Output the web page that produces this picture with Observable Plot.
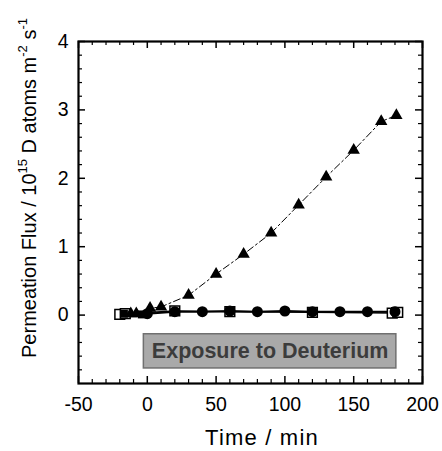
<!DOCTYPE html>
<html><head><meta charset="utf-8">
<script src="https://cdn.jsdelivr.net/npm/d3@7"></script>
<script src="https://cdn.jsdelivr.net/npm/@observablehq/plot@0.6"></script>
<style>body{margin:0;background:#fff} #chart svg{display:block}</style>
</head><body><div id="chart"></div>
<script>
// ---- data ----
const triTime = [-12, -8, 2, 10, 30, 50, 70, 90, 110, 130, 150, 170, 181];
const triFlux = [0.02, 0.02, 0.10, 0.12, 0.29, 0.60, 0.89, 1.20, 1.61, 2.02, 2.41, 2.83, 2.92];
const circTime = [0, 20, 40, 60, 80, 100, 120, 140, 160, 180];
const circFlux = [0.02, 0.05, 0.05, 0.06, 0.05, 0.06, 0.05, 0.05, 0.05, 0.05];
const sqTime = [-20, -16, 20, 60, 120, 178, 182];
const sqFlux = [0.01, 0.02, 0.06, 0.05, 0.04, 0.03, 0.04];
const fsqTime = [-17, -4, 180];
const fsqFlux = [0.02, 0.01, 0.06];
const xTicks = [-50, 0, 50, 100, 150, 200];
const xMinor = [-40,-30,-20,-10,10,20,30,40,60,70,80,90,110,120,130,140,160,170,180,190];
const yTicks = [0, 1, 2, 3, 4];
const yMinor = [-0.8,-0.6,-0.4,-0.2,0.2,0.4,0.6,0.8,1.2,1.4,1.6,1.8,2.2,2.4,2.6,2.8,3.2,3.4,3.6,3.8];
const boxX = [-2.5, 181];
const boxY = [-0.78, -0.28];
const boxLabel = "Exposure to Deuterium";
const xTitle = "Time / min";

const tri = triTime.map((t, i) => ({t, v: triFlux[i]}));
const circ = circTime.map((t, i) => ({t, v: circFlux[i]}));
const sq = sqTime.map((t, i) => ({t, v: sqFlux[i]}));
const fsq = fsqTime.map((t, i) => ({t, v: fsqFlux[i]}));

const W = 442, H = 451, mL = 78, mR = 20, mT = 41, mB = 68;
const pw = W - mL - mR, ph = H - mT - mB;
const font = "'Liberation Sans', Arial, sans-serif";

const chart = Plot.plot({
  width: W, height: H,
  marginLeft: mL, marginRight: mR, marginTop: mT, marginBottom: mB,
  style: {fontFamily: font, background: "#fff", color: "black"},
  x: {domain: [-50, 200]},
  y: {domain: [-1, 4]},
  marks: [
    Plot.rect([0], {x1: () => boxX[0], x2: () => boxX[1], y1: () => boxY[0], y2: () => boxY[1],
      fill: "#a9a9a9", stroke: "#707070", strokeWidth: 1.5}),
    Plot.text([boxLabel], {x: (boxX[0] + boxX[1]) / 2, y: (boxY[0] + boxY[1]) / 2, text: d => d,
      fontSize: 21.5, fontWeight: "bold", fill: "#3c3c3c"}),
    Plot.line(tri, {x: "t", y: "v", stroke: "black", strokeWidth: 1, strokeDasharray: "7,3,2,3"}),
    Plot.line(sq, {x: "t", y: "v", stroke: "black", strokeWidth: 1.5}),
    Plot.line(circ, {x: "t", y: "v", stroke: "black", strokeWidth: 2}),
    Plot.dot(sq, {x: "t", y: "v", symbol: "square", r: 5.5, stroke: "black", strokeWidth: 1.5, fill: "white"}),
    Plot.dot(fsq, {x: "t", y: "v", symbol: "square", r: 4.5, fill: "black"}),
    Plot.dot(circ, {x: "t", y: "v", symbol: "circle", r: 5.5, fill: "black"}),
    Plot.dot(tri, {x: "t", y: "v", symbol: "triangle", r: 4.6, fill: "black"}),
    // ticks (inward, all four sides)
    Plot.tickX(xTicks, {x: d => d, insetTop: ph - 7, stroke: "black", strokeWidth: 1.5}),
    Plot.tickX(xTicks, {x: d => d, insetBottom: ph - 7, stroke: "black", strokeWidth: 1.5}),
    Plot.tickX(xMinor, {x: d => d, insetTop: ph - 4, stroke: "black", strokeWidth: 1.2}),
    Plot.tickX(xMinor, {x: d => d, insetBottom: ph - 4, stroke: "black", strokeWidth: 1.2}),
    Plot.tickY(yTicks, {y: d => d, insetRight: pw - 7, stroke: "black", strokeWidth: 1.5}),
    Plot.tickY(yTicks, {y: d => d, insetLeft: pw - 7, stroke: "black", strokeWidth: 1.5}),
    Plot.tickY(yMinor, {y: d => d, insetRight: pw - 4, stroke: "black", strokeWidth: 1.2}),
    Plot.tickY(yMinor, {y: d => d, insetLeft: pw - 4, stroke: "black", strokeWidth: 1.2}),
    Plot.axisX(xTicks, {anchor: "bottom", tickSize: 0, tickPadding: 14, fontSize: 19.5, label: null,
      tickFormat: d => String(d)}),
    Plot.axisY(yTicks, {anchor: "left", tickSize: 0, tickPadding: 10, fontSize: 19.5, label: null,
      tickFormat: d => String(d)}),
    Plot.frame({stroke: "black", strokeWidth: 2.2})
  ]
});
document.getElementById("chart").appendChild(chart);

const svg = d3.select(chart);
svg.append("text")
  .attr("x", 262).attr("y", 445)
  .attr("text-anchor", "middle")
  .attr("font-family", font).attr("font-size", 22).attr("letter-spacing", 1.2).attr("fill", "black")
  .text(xTitle);

const yt = svg.append("text")
  .attr("transform", "translate(36,188) rotate(-90)")
  .attr("text-anchor", "middle")
  .attr("font-family", font).attr("font-size", 20).attr("fill", "black");
const parts = [
  ["Permeation Flux / 10", 0], ["15", 1], [" D atoms m", 0], ["-2", 1], [" s", 0], ["-1", 1]
];
let prevSup = 0;
parts.forEach(([s, sup]) => {
  const ts = yt.append("tspan").text(s);
  if (sup) { ts.attr("font-size", 13).attr("dy", prevSup ? 0 : -9); }
  else { ts.attr("dy", prevSup ? 9 : 0); }
  prevSup = sup;
});
</script></body></html>
